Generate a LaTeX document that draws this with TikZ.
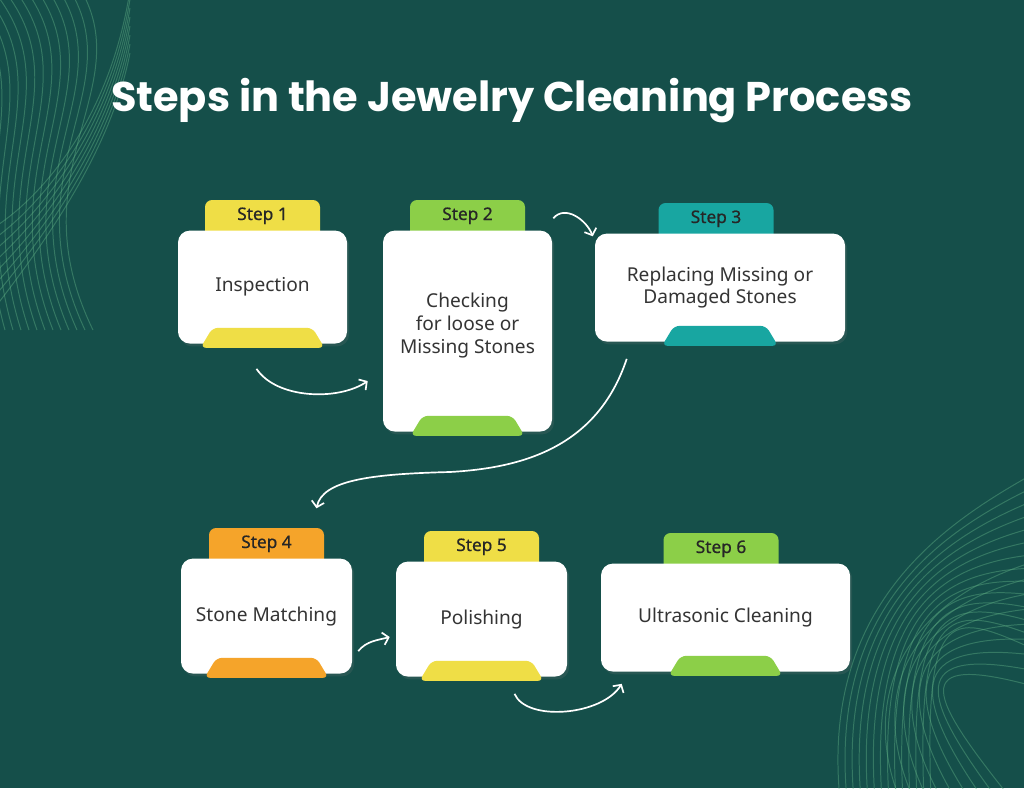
\documentclass[tikz,border=0pt]{standalone}
\usepackage{fontspec}
\setmainfont{Noto Sans}
\newfontfamily\titlefont{Poppins}
\newfontfamily\tabfont{Noto Sans}[FakeBold=0.6]
\usetikzlibrary{arrows.meta, positioning, calc, shadows}
\definecolor{bgteal}{RGB}{21,79,74}
\definecolor{stepyellow}{RGB}{239,222,70}
\definecolor{stepgreen}{RGB}{140,207,72}
\definecolor{stepteal}{RGB}{24,166,161}
\definecolor{steporange}{RGB}{245,164,42}
\definecolor{decoline}{RGB}{92,172,130}
\definecolor{boxtext}{RGB}{52,52,52}
\newcommand{\pxu}{0.025cm}

\begin{document}
\begin{tikzpicture}[
    x=\pxu, y={(0,-\pxu)},
    stepbox/.style={rectangle, rounded corners=8.5pt, fill=white, inner sep=0pt,
                    align=center, text=boxtext, font=\fontsize{13.6}{16.3}\selectfont,
                    drop shadow={opacity=0.18, shadow xshift=1.5pt, shadow yshift=-2pt}},
    steptab/.style={rectangle, rounded corners=5pt, minimum width=115*\pxu,
                    minimum height=40*\pxu, inner sep=0pt, text height=8pt, text depth=8pt,
                    font=\tabfont\fontsize{12.3}{14}\selectfont, text=black!85},
    flow/.style={white, line width=1.2pt, -{Straight Barb[length=4pt, width=9pt]}},
    deco/.style={decoline, line width=0.7pt, opacity=0.45}
]

% Canvas
\useasboundingbox (0,0) rectangle (1024,788);
\fill[bgteal] (0,0) rectangle (1024,788);

% Background waves
\begin{scope}
\clip (0,0) rectangle (1024,788);
\foreach \i in {0,...,11} {
    \draw[deco] (\i*11-40,-10) .. controls (\i*8+50,90) and (\i*5-40,170) .. (\i*8+5,330);
}
\foreach \i in {0,...,7} {
    \draw[deco] (-10,230+\i*12) .. controls (40,200+\i*7) and (110,120+\i*5) .. (130,\i*9-10);
}
\foreach \i in {0,...,13} {
    \draw[deco] (840+\i*7,800) .. controls (820+\i*8,600) and (950,520+\i*7) .. (1040,470+\i*14);
}
\foreach \i in {0,...,8} {
    \draw[deco] (900+\i*14,800) .. controls (860+\i*9,700) and (900,600+\i*6) .. (1040,560+\i*16);
}
\end{scope}

% Title
\node[font=\titlefont\bfseries\fontsize{29.5}{34}\selectfont, text=white] (title) at (512,101)
    {Steps in the Jewelry Cleaning Process};

% Step 1: Inspection
\node[steptab, fill=stepyellow] (t1) at (262.5,220) {Step 1};
\node[stepbox, minimum width=169*\pxu, minimum height=113*\pxu, below=-0.25cm of t1] (b1) {Inspection};

% Step 2: Checking
\node[steptab, fill=stepgreen] (t2) at (467.5,220) {Step 2};
\node[stepbox, minimum width=169*\pxu, minimum height=201*\pxu, below=-0.25cm of t2] (b2)
    {Checking\\for loose or\\Missing Stones\\[-5pt]};

% Step 3: Replacing
\node[steptab, fill=stepteal] (t3) at (716,223) {Step 3};
\node[stepbox, minimum width=250*\pxu, minimum height=108*\pxu, below=-0.25cm of t3, xshift=4*\pxu] (b3)
    {Replacing Missing or\\Damaged Stones};

% Step 4: Stone Matching
\node[steptab, fill=steporange] (t4) at (266.5,548) {Step 4};
\node[stepbox, minimum width=171*\pxu, minimum height=115*\pxu, below=-0.25cm of t4] (b4) {Stone Matching};

% Step 5: Polishing
\node[steptab, fill=stepyellow] (t5) at (481.5,551) {Step 5};
\node[stepbox, minimum width=171*\pxu, minimum height=115*\pxu, below=-0.25cm of t5] (b5) {Polishing};

% Step 6: Ultrasonic Cleaning
\node[steptab, fill=stepgreen] (t6) at (721,553) {Step 6};
\node[stepbox, minimum width=249*\pxu, minimum height=108*\pxu, below=-0.25cm of t6, xshift=4.5*\pxu] (b6)
    {Ultrasonic Cleaning};

% Bottom tabs
\foreach \b/\c/\w in {b1/stepyellow/62, b2/stepgreen/57, b3/stepteal/58,
                      b4/steporange/62, b5/stepyellow/62, b6/stepgreen/57} {
    \fill[\c, rounded corners=4pt] ($(\b.south)+(-\w,4)$) -- ($(\b.south)+(-\w+12,-16)$)
        -- ($(\b.south)+(\w-12,-16)$) -- ($(\b.south)+(\w,4)$) -- cycle;
}

% Connectors
\draw[flow] ($(b1.south)+(-6,25)$) .. controls +(20,30) and +(-30,20) .. ($(b2.west)+(-15,50)$);
\draw[flow] ($(b2.north east)+(1,-12)$) .. controls +(12,-14) and +(-6,-16) .. ($(b3.north west)+(-2,3)$);
\draw[flow] ($(b3.south west)+(32,17)$) .. controls +(-30,90) and +(70,-4) .. (450,472)
    .. controls +(-80,2) and +(6,-28) .. ($(b4.north)+(50,-50)$);
\draw[flow] ($(b4.east)+(6,35)$) .. controls +(8,-10) and +(-12,3) .. ($(b5.west)+(-6,18)$);
\draw[flow] ($(b5.south)+(33,17)$) .. controls +(12,28) and +(-20,32) .. ($(b6.south west)+(21,12)$);

\end{tikzpicture}
\end{document}
